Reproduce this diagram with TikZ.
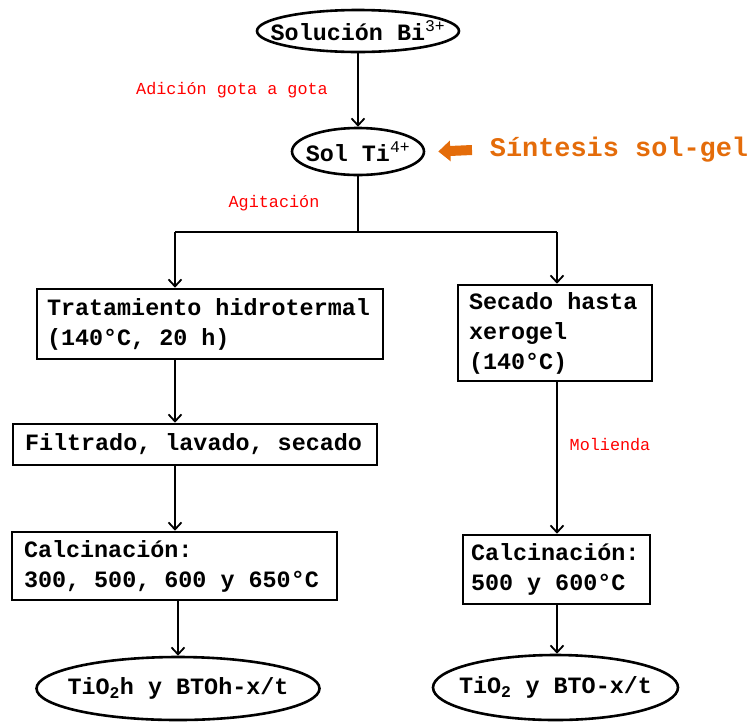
\documentclass[tikz,border=0pt]{standalone}
\usepackage{fontspec}
\usepackage{tikz}
\usetikzlibrary{arrows.meta,shapes.geometric}
\newfontfamily\courfont{Liberation Mono}
\definecolor{solgelorange}{RGB}{228,108,10}
\newcommand\ovaltext[1]{\makebox[0pt]{#1}}

\begin{document}
\begin{tikzpicture}[x=1pt,y=-1pt,
    every node/.style={font=\courfont\bfseries\fontsize{23.4}{30}\selectfont},
    oval/.style={ellipse,draw,line width=2.6pt,inner sep=0pt},
    stepbox/.style={draw,line width=2.6pt,align=flush left,inner ysep=0pt},
    note/.style={font=\courfont\fontsize{16.8}{20}\selectfont,text=red},
    flow/.style={line width=1.8pt,-{Straight Barb[length=7pt,width=13pt,line width=1.8pt]}}]
    \useasboundingbox (0,0) rectangle (752,724);
    % top of the flow
    \node[oval,minimum width=202pt,minimum height=42pt] (bi) at (358,31) {\ovaltext{Solución Bi\textsuperscript{\mdseries 3+}}};
    \node[oval,minimum width=132pt,minimum height=47pt] (ti) at (358,151.5) {\ovaltext{Sol Ti\textsuperscript{\mdseries 4+}}};
    \node[font=\courfont\bfseries\fontsize{26.9}{30}\selectfont,text=solgelorange] (sg) at (619,150) {Síntesis sol-gel};
    \coordinate (sgarrow) at (472,150);
    \node[note] (gota) at (232,90) {Adición gota a gota};
    \node[note] (agit) at (274,203) {Agitación};
    \coordinate (split) at (358,232);
    \coordinate (jl) at (175,232);
    \coordinate (jr) at (557,232);
    % left branch
    \node[stepbox,text width=326pt,inner xsep=10pt,minimum height=70pt] (hidro) at (210,324) {Tratamiento hidrotermal\\(140°C, 20 h)};
    \node[stepbox,text width=340pt,inner xsep=12pt,minimum height=41pt] (filt) at (195,444.5) {Filtrado, lavado, secado};
    \node[stepbox,text width=301pt,inner xsep=12pt,minimum height=68pt] (calcA) at (174.5,566) {Calcinación:\\300, 500, 600 y 650°C};
    \node[oval,minimum width=283pt,minimum height=63pt] (prodA) at (178,688.5) {\ovaltext{TiO\textsubscript{2}h y BTOh-x/t}};
    % right branch
    \node[stepbox,text width=172pt,inner xsep=11pt,minimum height=96pt] (xero) at (555,333) {Secado hasta\\xerogel\\(140°C)};
    \node[note] (mol) at (610,445) {Molienda};
    \node[stepbox,text width=171pt,inner xsep=8pt,minimum height=69pt] (calcB) at (556.5,569.5) {Calcinación:\\500 y 600°C};
    \node[oval,minimum width=245pt,minimum height=65pt] (prodB) at (555.5,687.5) {\ovaltext{TiO\textsubscript{2} y BTO-x/t}};
    % connectors
    \draw[flow] (bi) -- (ti);
    \draw[line width=1.8pt] (ti) -- (split);
    \draw[line width=1.8pt] (jl) -- (jr);
    \draw[flow] (jl) -- (jl |- hidro.north);
    \draw[flow] (jr) -- (jr |- xero.north);
    \draw[flow] (hidro.south -| jl) -- (filt.north -| jl);
    \draw[flow] (filt.south -| jl) -- (calcA.north -| jl);
    \draw[flow] (calcA.south -| prodA.north) -- (prodA);
    \draw[flow] (xero.south -| jr) -- (calcB.north -| jr);
    \draw[flow] (calcB.south -| jr) -- (prodB.north -| jr);
    \draw[solgelorange,line width=10pt,-{Triangle[length=12pt,width=20pt]}] (sgarrow) -- ([xshift=13pt]ti.east);
\end{tikzpicture}
\end{document}
